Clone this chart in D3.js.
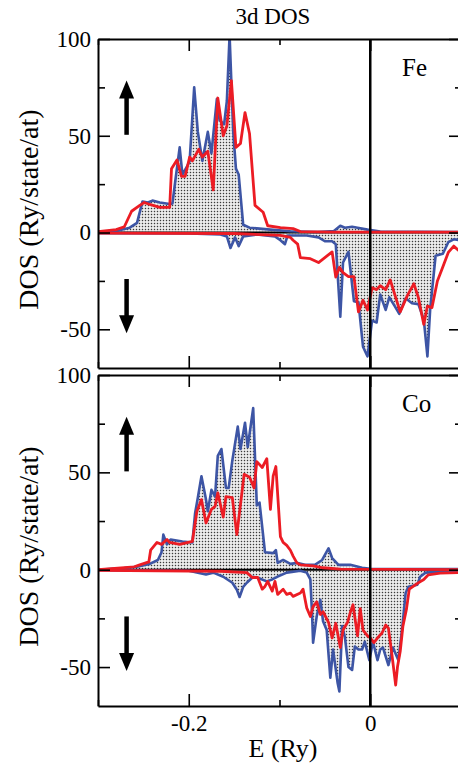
<!DOCTYPE html>
<html>
<head>
<meta charset="utf-8">
<script src="https://cdn.jsdelivr.net/npm/d3@7"></script>
<style>
  body { margin: 0; background: #fff; }
</style>
</head>
<body>
<script>
// axis ranges and ticks
const energyDomain = [-0.3, 0.1];
const dosDomain = [-70, 100];
const dosMajor = [100, 50, 0, -50];
const dosMinor = [75, 25, -25];
const eMajor = [-0.2, 0];
const eMinor = [-0.3, -0.1, 0.1];
const eLabels = ["-0.2", "0"];
const panelNames = ["Fe", "Co"];

// [E (Ry), DOS]
const feUpBlue = [[-0.300,0.3],[-0.280,0.8],[-0.265,2.5],[-0.257,5],[-0.251,16],[-0.245,15.5],[-0.240,16.5],[-0.232,15.5],[-0.221,14.7],[-0.218,15],[-0.215,26],[-0.210,44],[-0.207,30],[-0.202,34],[-0.199,37],[-0.194,75],[-0.190,52],[-0.185,37],[-0.179,52],[-0.175,41],[-0.169,69],[-0.166,58],[-0.161,56],[-0.158,68],[-0.155,102],[-0.151,52],[-0.148,33],[-0.145,30],[-0.140,4],[-0.133,2.5],[-0.122,2],[-0.110,1.5],[-0.088,0.7],[-0.058,0.3],[-0.040,0.8],[-0.033,3.5],[-0.028,2.5],[-0.020,3],[-0.014,2.5],[-0.003,1.5],[0.011,0.5],[0.100,0.3]];
const feUpRed = [[-0.300,0.5],[-0.280,1.5],[-0.271,3],[-0.263,11],[-0.254,14],[-0.249,15.5],[-0.243,14.5],[-0.232,13],[-0.221,13],[-0.219,33],[-0.213,37.5],[-0.208,29],[-0.204,29],[-0.199,39],[-0.196,37],[-0.189,43],[-0.185,39],[-0.179,42],[-0.173,22],[-0.168,69.5],[-0.162,50],[-0.158,55],[-0.153,78.5],[-0.148,44],[-0.143,46],[-0.138,62],[-0.133,51],[-0.127,14],[-0.118,10.5],[-0.113,3.5],[-0.099,2.5],[-0.085,2],[-0.077,0.5],[-0.040,0.2],[0.100,0.2]];
const feDownBlue = [[-0.300,-0.3],[-0.200,-0.5],[-0.165,-1],[-0.158,-2],[-0.154,-8],[-0.149,-2.5],[-0.145,-7],[-0.140,-2],[-0.125,-1],[-0.105,-2],[-0.099,-4],[-0.094,-6],[-0.091,-1.5],[-0.070,-1.5],[-0.057,-2.5],[-0.050,-4.5],[-0.042,-4.5],[-0.038,-6],[-0.033,-43.5],[-0.030,-15.5],[-0.024,-10],[-0.018,-35.5],[-0.013,-36],[-0.008,-59],[-0.003,-64],[0.002,-45.5],[0.007,-46.5],[0.011,-32],[0.017,-40],[0.021,-33.5],[0.027,-38],[0.032,-42],[0.039,-34],[0.046,-36.5],[0.053,-37],[0.059,-45],[0.063,-64],[0.066,-40],[0.072,-12],[0.080,-11],[0.086,-5],[0.092,-3.5],[0.100,-4]];
const feDownRed = [[-0.300,-0.3],[-0.150,-0.5],[-0.099,-1.5],[-0.088,-2.5],[-0.085,-4],[-0.080,-6],[-0.077,-13],[-0.066,-13.5],[-0.057,-15.5],[-0.042,-10],[-0.038,-23],[-0.034,-18],[-0.030,-20.7],[-0.024,-22.8],[-0.018,-22.8],[-0.013,-41],[-0.008,-35],[-0.003,-40],[0.002,-28.5],[0.007,-29.5],[0.011,-27.5],[0.017,-29.5],[0.022,-24.5],[0.028,-33.5],[0.033,-41],[0.041,-32.5],[0.048,-26.5],[0.053,-33.5],[0.059,-47.5],[0.063,-38],[0.068,-38.8],[0.074,-25],[0.079,-19],[0.086,-10.3],[0.092,-7],[0.100,-10.3]];

const coUpBlue = [[-0.300,0],[-0.271,0.8],[-0.257,1.5],[-0.243,3],[-0.234,5],[-0.230,9],[-0.228,18],[-0.224,13],[-0.220,15.5],[-0.207,14.5],[-0.196,14],[-0.193,29],[-0.190,37],[-0.186,48],[-0.181,36],[-0.179,30],[-0.175,41],[-0.171,37.5],[-0.168,58.5],[-0.164,62],[-0.159,42],[-0.156,42],[-0.152,56],[-0.146,73.5],[-0.143,62],[-0.138,75.5],[-0.135,63],[-0.129,83],[-0.125,33],[-0.122,34.5],[-0.116,9],[-0.107,8.5],[-0.104,10],[-0.102,3.5],[-0.096,5],[-0.088,3],[-0.080,3.5],[-0.072,2.5],[-0.061,2.5],[-0.053,5],[-0.046,11],[-0.042,6],[-0.035,2.5],[-0.022,2.5],[-0.009,1],[0.000,0.5],[0.100,0.3]];
const coUpRed = [[-0.300,0],[-0.260,1.5],[-0.254,2.5],[-0.244,4],[-0.242,10],[-0.235,14],[-0.230,13],[-0.224,15.5],[-0.221,14],[-0.210,13],[-0.196,14.5],[-0.191,30],[-0.186,36],[-0.181,24],[-0.175,31],[-0.171,32.5],[-0.168,39.5],[-0.162,27],[-0.159,37.5],[-0.152,37],[-0.147,18],[-0.139,49],[-0.133,47.5],[-0.128,42],[-0.125,55.5],[-0.119,52.5],[-0.114,57],[-0.110,31],[-0.107,48],[-0.104,53],[-0.099,17],[-0.096,14],[-0.092,12.5],[-0.088,10],[-0.085,7],[-0.081,3.6],[-0.077,2.5],[-0.063,2],[-0.052,1],[-0.033,0.3],[0.100,0]];
const coDownBlue = [[-0.300,-0.3],[-0.200,-0.5],[-0.181,-2.5],[-0.173,-1.5],[-0.162,-3.6],[-0.152,-6.7],[-0.147,-10.3],[-0.144,-14],[-0.140,-8.8],[-0.136,-6.7],[-0.129,-3.6],[-0.122,-4.5],[-0.114,-6],[-0.108,-5],[-0.102,-3.5],[-0.092,-1.5],[-0.077,-0.5],[-0.070,-1.5],[-0.066,-5],[-0.064,-24],[-0.063,-37.5],[-0.059,-24],[-0.055,-15.5],[-0.052,-26.5],[-0.048,-31],[-0.044,-55.5],[-0.041,-41],[-0.036,-58],[-0.034,-62.5],[-0.031,-29],[-0.028,-34.5],[-0.024,-50],[-0.020,-51.5],[-0.017,-39.5],[-0.013,-41],[-0.009,-41],[-0.006,-37],[-0.001,-46.5],[0.003,-37],[0.008,-46.5],[0.011,-41],[0.014,-40],[0.020,-49],[0.025,-40],[0.031,-46.5],[0.035,-31],[0.039,-12],[0.042,-8.8],[0.052,-7.7],[0.055,-3.6],[0.061,-1.5],[0.100,-0.5]];
const coDownRed = [[-0.300,-0.3],[-0.165,-0.8],[-0.136,-1.5],[-0.130,-4],[-0.124,-4],[-0.119,-10],[-0.116,-8.6],[-0.113,-6],[-0.108,-11],[-0.105,-6],[-0.102,-12.7],[-0.096,-10],[-0.092,-12.7],[-0.088,-12],[-0.085,-13.7],[-0.077,-12],[-0.074,-10],[-0.070,-19.6],[-0.066,-24],[-0.063,-19],[-0.059,-16.5],[-0.055,-23],[-0.052,-21.6],[-0.046,-27],[-0.042,-35],[-0.038,-27.5],[-0.033,-40],[-0.030,-31],[-0.025,-27],[-0.022,-22],[-0.019,-18],[-0.014,-34],[-0.011,-20],[-0.008,-31],[-0.003,-34],[0.000,-35],[0.004,-37.5],[0.009,-34.5],[0.013,-32.5],[0.017,-28.4],[0.020,-30],[0.024,-44],[0.028,-59.3],[0.030,-50],[0.033,-42],[0.036,-29],[0.040,-20],[0.043,-10],[0.052,-7],[0.059,-5],[0.064,-2.6],[0.077,-1.8],[0.100,-1.5]];

// spin arrows: [E, from DOS, to DOS]
const arrowUp = [-0.2685, 50.5, 78.5];
const arrowDown = [-0.2685, -24, -52];

const BLUE = "#3d55a5", RED = "#ec1c24";
const FONT = "'Liberation Serif', 'Times New Roman', serif";

const svg = d3.select("body").append("svg")
  .attr("width", 458)
  .attr("height", 765)
  .style("background-color", "#fff");

const defs = svg.append("defs");
const pat = defs.append("pattern")
  .attr("id", "dots")
  .attr("patternUnits", "userSpaceOnUse")
  .attr("width", 3).attr("height", 3);
pat.append("rect").attr("width", 3).attr("height", 3).attr("fill", "#f4f4f4");
pat.append("rect").attr("x", 0.8).attr("y", 0.8).attr("width", 1.4).attr("height", 1.4).attr("fill", "#3a3a3a");

const x = d3.scaleLinear().domain(energyDomain).range([98, 461]);

const panels = [
  { name: panelNames[0], top: 39, bottom: 368, up: [feUpBlue, feUpRed], down: [feDownBlue, feDownRed] },
  { name: panelNames[1], top: 375, bottom: 706, up: [coUpBlue, coUpRed], down: [coDownBlue, coDownRed] }
];

panels.forEach((p, i) => {
  const y = d3.scaleLinear().domain(dosDomain).range([p.bottom, p.top]);
  const g = svg.append("g");

  defs.append("clipPath").attr("id", "clip" + i)
    .append("rect")
    .attr("x", x.range()[0]).attr("y", p.top)
    .attr("width", x.range()[1] - x.range()[0])
    .attr("height", p.bottom - p.top);

  const plot = g.append("g").attr("clip-path", `url(#clip${i})`);

  const area = d3.area().x(d => x(d[0])).y0(y(0)).y1(d => y(d[1]));
  const line = d3.line().x(d => x(d[0])).y(d => y(d[1]));

  // shaded majority (blue) DOS
  [p.up[0], p.down[0]].forEach(s => {
    plot.append("path").attr("d", area(s)).attr("fill", "url(#dots)").attr("stroke", "none");
  });

  // zero line
  plot.append("line")
    .attr("x1", x.range()[0]).attr("x2", x.range()[1])
    .attr("y1", y(0)).attr("y2", y(0))
    .attr("stroke", "#000").attr("stroke-width", 2);

  [p.up[0], p.down[0]].forEach(s => {
    plot.append("path").attr("d", line(s))
      .attr("fill", "none").attr("stroke", BLUE).attr("stroke-width", 2.6)
      .attr("stroke-linejoin", "round");
  });
  [p.up[1], p.down[1]].forEach(s => {
    plot.append("path").attr("d", line(s))
      .attr("fill", "none").attr("stroke", RED).attr("stroke-width", 2.8)
      .attr("stroke-linejoin", "round");
  });

  // Fermi level
  plot.append("line")
    .attr("x1", x(0)).attr("x2", x(0))
    .attr("y1", p.top).attr("y2", p.bottom)
    .attr("stroke", "#000").attr("stroke-width", 2.5);

  // arrows
  [arrowUp, arrowDown].forEach(a => {
    const ax = x(a[0]), y1 = y(a[1]), y2 = y(a[2]);
    const dir = y2 < y1 ? 1 : -1;
    const headLen = 18, headW = 7.5;
    g.append("line")
      .attr("x1", ax).attr("x2", ax)
      .attr("y1", y1).attr("y2", y2 + dir * (headLen - 2))
      .attr("stroke", "#000").attr("stroke-width", 4.5);
    g.append("path")
      .attr("d", `M${ax},${y2} L${ax - headW},${y2 + dir * headLen} L${ax + headW},${y2 + dir * headLen} Z`)
      .attr("fill", "#000");
  });

  // frame with inward ticks
  const styleAxis = sel => {
    sel.attr("font-family", null).attr("font-size", null);
    sel.select(".domain").attr("stroke-width", 2);
    sel.selectAll(".tick line").attr("stroke-width", 1.6);
    sel.selectAll("text").style("font-family", FONT).style("font-size", "23px").attr("fill", "#000");
  };
  const noDomain = sel => sel.select(".domain").remove();

  g.append("g").attr("transform", `translate(${x.range()[0]},0)`)
    .call(d3.axisLeft(y).tickValues(dosMajor).tickSize(-12).tickSizeOuter(0).tickPadding(7).tickFormat(d => String(d)))
    .call(styleAxis);
  g.append("g").attr("transform", `translate(${x.range()[0]},0)`)
    .call(d3.axisLeft(y).tickValues(dosMinor).tickSize(-7).tickSizeOuter(0).tickFormat(""))
    .call(styleAxis).call(noDomain);
  g.append("g").attr("transform", `translate(${x.range()[1]},0)`)
    .call(d3.axisRight(y).tickValues(dosMajor).tickSize(-12).tickSizeOuter(0).tickFormat(""))
    .call(styleAxis);
  g.append("g").attr("transform", `translate(${x.range()[1]},0)`)
    .call(d3.axisRight(y).tickValues(dosMinor).tickSize(-6).tickSizeOuter(0).tickFormat(""))
    .call(styleAxis).call(noDomain);

  g.append("g").attr("transform", `translate(0,${p.top})`)
    .call(d3.axisTop(x).tickValues(eMajor).tickSize(-12).tickSizeOuter(0).tickFormat(""))
    .call(styleAxis);
  g.append("g").attr("transform", `translate(0,${p.top})`)
    .call(d3.axisTop(x).tickValues(eMinor).tickSize(-6).tickSizeOuter(0).tickFormat(""))
    .call(styleAxis).call(noDomain);

  const last = i === panels.length - 1;
  g.append("g").attr("transform", `translate(0,${p.bottom})`)
    .call(d3.axisBottom(x).tickValues(eMajor).tickSize(-12).tickSizeOuter(0).tickPadding(9)
      .tickFormat((d, k) => last ? eLabels[k] : ""))
    .call(styleAxis);
  g.append("g").attr("transform", `translate(0,${p.bottom})`)
    .call(d3.axisBottom(x).tickValues(eMinor).tickSize(-6).tickSizeOuter(0).tickFormat(""))
    .call(styleAxis).call(noDomain);

  // element label
  g.append("text")
    .attr("x", 402).attr("y", p.top + 37)
    .style("font-family", FONT).style("font-size", "25px")
    .text(p.name);

  // y label
  g.append("text")
    .attr("transform", `translate(38,${(p.top + p.bottom) / 2 + 6}) rotate(-90)`)
    .attr("text-anchor", "middle")
    .style("font-family", FONT).style("font-size", "28px")
    .text("DOS (Ry/state/at)");
});

svg.append("text")
  .attr("x", 273).attr("y", 24)
  .attr("text-anchor", "middle")
  .style("font-family", FONT).style("font-size", "23px")
  .text("3d DOS");

svg.append("text")
  .attr("x", 283).attr("y", 757)
  .attr("text-anchor", "middle")
  .style("font-family", FONT).style("font-size", "26px")
  .text("E (Ry)");
</script>
</body>
</html>
